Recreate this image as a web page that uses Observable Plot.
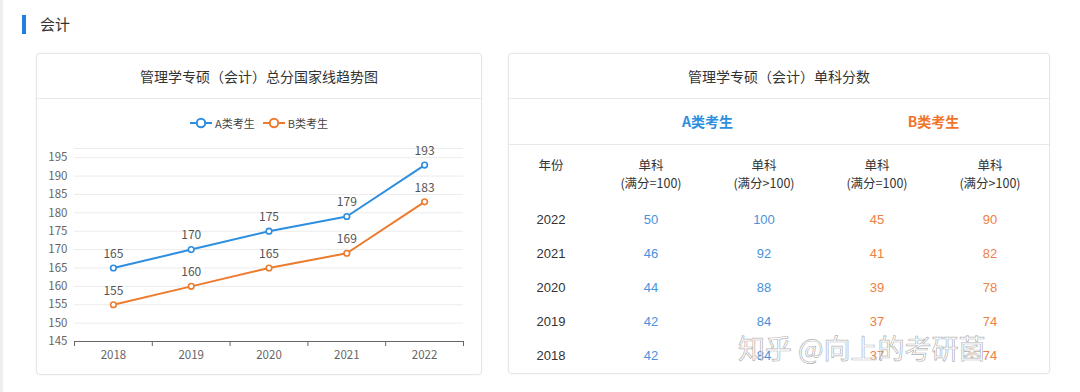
<!DOCTYPE html>
<html><head><meta charset="utf-8">
<script src="https://cdn.jsdelivr.net/npm/d3@7"></script>
<script src="https://cdn.jsdelivr.net/npm/@observablehq/plot@0.6"></script>
<style>
body{margin:0;width:1080px;height:392px;background:#fff;font-family:"Noto Sans CJK SC","Noto Sans",sans-serif;position:relative;overflow:hidden;color:#333}
.edge{position:absolute;left:0;top:0;width:3px;height:392px;background:#eee}
.bar{position:absolute;left:22px;top:15px;width:4px;height:19px;background:#1e7fe0}
.hdr{position:absolute;left:40px;top:13px;font-size:15px;line-height:22px;color:#333}
.card{position:absolute;border:1px solid #e6e6e6;border-radius:4px;background:#fff;box-shadow:0 0 3px rgba(0,0,0,0.05)}
.ctitle{position:absolute;left:0;right:0;top:0;height:44px;line-height:44px;text-align:center;font-size:14px;color:#333;border-bottom:1px solid #e8e8e8}
.legend{position:absolute;left:0;right:0;top:61px;text-align:center;font-size:11px;color:#444;line-height:16px}
.legend span{display:inline-flex;align-items:center;margin:0 4px}
.legend svg{margin-right:3px}
#chart{position:absolute;left:0;top:86px}
.grp{position:absolute;top:45px;left:0;right:0;height:45px;border-bottom:1px solid #e8e8e8}
.grp div{position:absolute;top:0;line-height:45px;font-size:14px;font-weight:bold;text-align:center}
.cell{position:absolute;text-align:center;font-size:13px;line-height:18px;font-family:"Liberation Sans","Noto Sans CJK SC",sans-serif}
.cell.h{font-family:"Noto Sans CJK SC","Noto Sans",sans-serif;font-size:12.5px}
.wm{position:absolute;left:738px;top:328px;font-size:27px;color:rgba(255,255,255,0.5);-webkit-text-stroke:0.7px rgba(110,110,110,0.55);white-space:nowrap}
</style></head>
<body>
<div class="edge"></div>
<div class="bar"></div>
<div class="hdr">会计</div>
<div class="card" id="left" style="left:36px;top:53px;width:444px;height:320px">
  <div class="ctitle">管理学专硕（会计）总分国家线趋势图</div>
  <div class="legend" id="legend"></div>
  <div id="chart"></div>
</div>
<div class="card" id="right" style="left:508px;top:53px;width:540px;height:319px">
  <div class="ctitle">管理学专硕（会计）单科分数</div>
  <div class="grp" id="grp"></div>
</div>
<div class="wm">知乎 @向上的考研菌</div>
<script>
// ---- data ----
const years = [2018, 2019, 2020, 2021, 2022];
const seriesNames = ["A类考生", "B类考生"];
const totalA = [165, 170, 175, 179, 193];
const totalB = [155, 160, 165, 169, 183];
const yTicks = [145, 150, 155, 160, 165, 170, 175, 180, 185, 190, 195];
const colors = ["#2d8ee0", "#ec7b2e"];

const tableYears = [2022, 2021, 2020, 2019, 2018];
const singleA100 = [50, 46, 44, 42, 42];
const singleAOver = [100, 92, 88, 84, 84];
const singleB100 = [45, 41, 39, 37, 37];
const singleBOver = [90, 82, 78, 74, 74];
const colHeads = ["年份", "单科\n(满分=100)", "单科\n(满分>100)", "单科\n(满分=100)", "单科\n(满分>100)"];
const tableColors = ["#4a92dc", "#ee8045"];

// ---- legend ----
const leg = document.getElementById("legend");
seriesNames.forEach((n, i) => {
  const s = document.createElement("span");
  s.innerHTML = `<svg width="22" height="12"><line x1="0" x2="22" y1="6" y2="6" stroke="${colors[i]}" stroke-width="2"/><circle cx="11" cy="6" r="4.2" fill="#fff" stroke="${colors[i]}" stroke-width="2"/></svg>${n}`;
  leg.appendChild(s);
});

// ---- chart ----
const data = [];
years.forEach((y, i) => {
  data.push({year: y, value: totalA[i], series: seriesNames[0]});
  data.push({year: y, value: totalB[i], series: seriesNames[1]});
});
const bounds = years.map(y => y - 0.5).concat([years[years.length - 1] + 0.5]);
const yTop = yTicks[yTicks.length - 1] + 2.5;

const chart = Plot.plot({
  width: 444,
  height: 232,
  marginTop: 8,
  marginBottom: 31,
  marginLeft: 37,
  marginRight: 18,
  style: {fontFamily: "'Noto Sans CJK SC','Noto Sans',sans-serif", fontSize: "11.5px", background: "transparent", overflow: "visible"},
  x: {domain: [bounds[0], bounds[bounds.length - 1]]},
  y: {domain: [yTicks[0], yTop]},
  color: {domain: seriesNames, range: colors},
  marks: [
    Plot.ruleY(yTicks.slice(1).concat([yTop]), {stroke: "#ececec", strokeWidth: 1}),
    Plot.axisY({ticks: yTicks, tickSize: 0, tickPadding: 7, label: null, fill: "#666", fontSize: 11.5}),
    Plot.ruleY([yTicks[0]], {stroke: "#666", strokeWidth: 1}),
    Plot.axisX({ticks: bounds, tickSize: 5, tickFormat: () => "", label: null, stroke: "#666"}),
    Plot.axisX({ticks: years, tickSize: 0, tickPadding: 9, tickFormat: d => String(d), label: null, fill: "#666", fontSize: 11.5}),
    Plot.line(data, {x: "year", y: "value", stroke: "series", strokeWidth: 2}),
    Plot.dot(data, {x: "year", y: "value", stroke: "series", fill: "#fff", r: 2.8, strokeWidth: 1.6}),
    Plot.text(data, {x: "year", y: "value", text: d => String(d.value), dy: -14, fill: "#555", fontSize: 12})
  ]
});
document.getElementById("chart").appendChild(chart);

// ---- table ----
const right = document.getElementById("right");
const grp = document.getElementById("grp");
const colCenters = [42, 142, 255, 368, 481];
const colW = 110;
[[seriesNames[0], 1, 2, colors[0]], [seriesNames[1], 3, 4, "#f0742c"]].forEach(([n, a, b, c]) => {
  const d = document.createElement("div");
  const mid = (colCenters[a] + colCenters[b]) / 2;
  d.style.left = (mid - 60) + "px";
  d.style.width = "120px";
  d.style.color = c;
  d.textContent = n;
  grp.appendChild(d);
});
function cell(text, cx, top, color, cls) {
  const d = document.createElement("div");
  d.className = "cell" + (cls ? " " + cls : "");
  d.style.left = (cx - colW / 2) + "px";
  d.style.width = colW + "px";
  d.style.top = top + "px";
  d.style.color = color;
  d.innerHTML = String(text).replace("\n", "<br>");
  right.appendChild(d);
}
colHeads.forEach((h, i) => cell(h, colCenters[i], 102, "#333", "h"));
tableYears.forEach((y, r) => {
  const top = 157 + r * 34;
  cell(y, colCenters[0], top, "#333");
  cell(singleA100[r], colCenters[1], top, tableColors[0]);
  cell(singleAOver[r], colCenters[2], top, tableColors[0]);
  cell(singleB100[r], colCenters[3], top, tableColors[1]);
  cell(singleBOver[r], colCenters[4], top, tableColors[1]);
});
</script>
</body></html>
